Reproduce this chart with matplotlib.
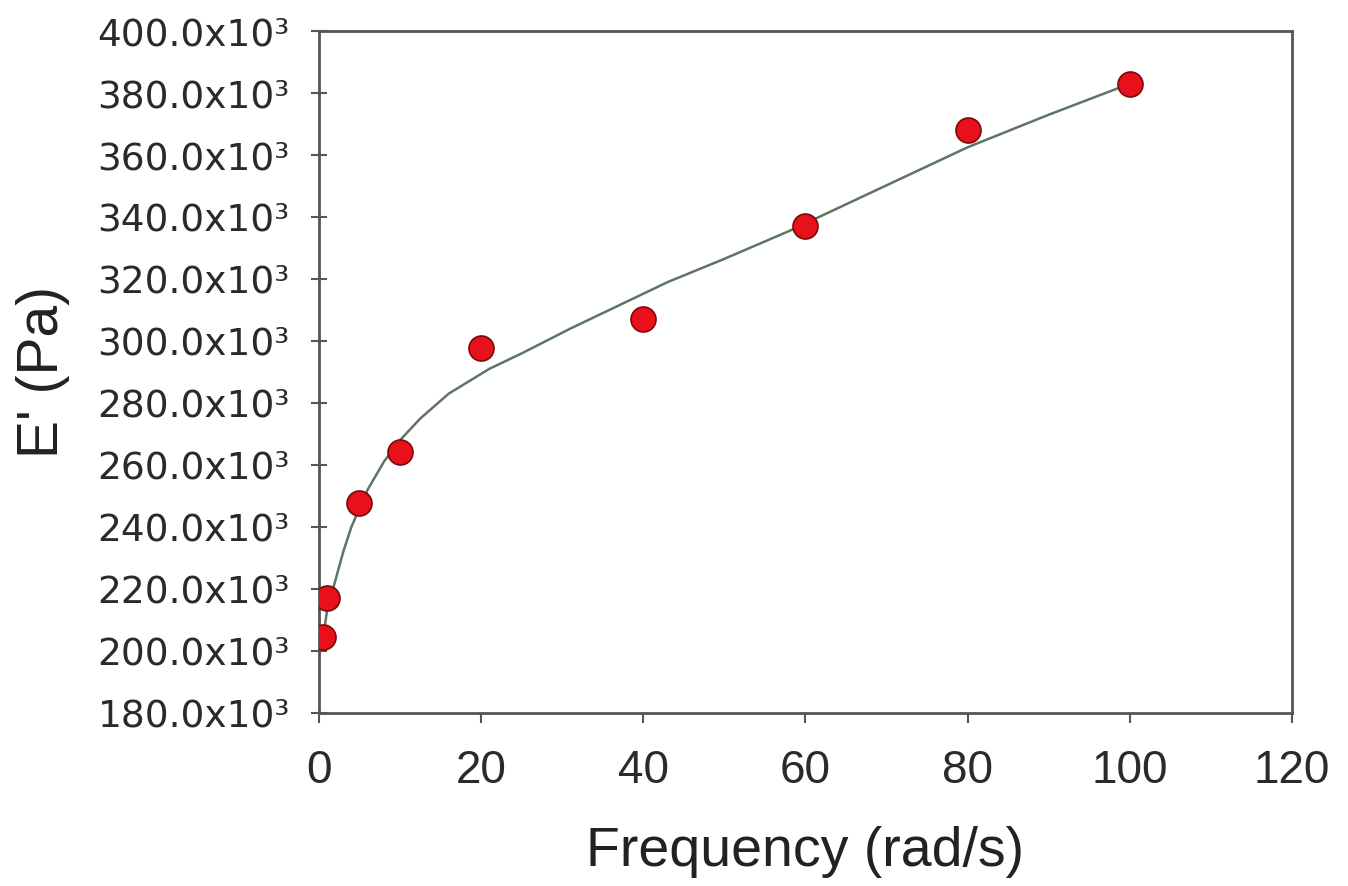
import numpy as np
import matplotlib
matplotlib.use("Agg")
import matplotlib.pyplot as plt
from matplotlib.ticker import FuncFormatter, MultipleLocator

# measured points
freq = [0.5, 1, 5, 10, 20, 40, 60, 80, 100]
e_prime = [204.5e3, 217.0e3, 247.7e3, 264.2e3, 297.7e3, 307.1e3, 337.1e3, 368.0e3, 382.9e3]

# fitted curve
fit_x = [0.5, 1, 2, 3, 4, 6, 8, 10, 12.5, 16, 21, 25, 31, 37, 43, 50, 58, 69, 80, 90, 100]
fit_y = [204e3, 213e3, 222.5e3, 232e3, 240e3, 252e3, 261e3, 268e3, 275e3, 283e3,
         291e3, 296e3, 304e3, 311.5e3, 319e3, 326.5e3, 335.5e3, 349e3, 362.5e3,
         373e3, 383e3]

plt.rcParams['font.family'] = ['Liberation Sans', 'DejaVu Sans']

fig = plt.figure(figsize=(13.48, 8.86), dpi=100)
ax = fig.add_axes([0.2366, 0.1953, 0.7219, 0.7697])

ax.plot(fit_x, fit_y, color='#5f7466', lw=1.8, zorder=2)
ax.plot(freq, e_prime, 'o', ms=18, color='#e8101a', mec='#7a0a0a', mew=1.2, zorder=3)

ax.set_xlim(0, 120)
ax.set_ylim(180e3, 400e3)
ax.xaxis.set_major_locator(MultipleLocator(20))
ax.yaxis.set_major_locator(MultipleLocator(20e3))
ax.yaxis.set_major_formatter(FuncFormatter(lambda v, p: f"{v/1000:.1f}x10³"))

for s in ax.spines.values():
    s.set_color('#555555')
    s.set_linewidth(2)

ax.tick_params(axis='x', direction='out', length=7, width=1.5, color='#555555',
               labelsize=33, pad=19, labelcolor='#2a2a2a')
ax.tick_params(axis='y', direction='inout', length=12, width=1.5, color='#555555',
               labelsize=27, pad=15, labelcolor='#2a2a2a')
for lab in ax.get_yticklabels():
    lab.set_family('DejaVu Sans')

ax.set_xlabel('Frequency (rad/s)', fontsize=40, color='#222222', labelpad=24)
ax.set_ylabel("E' (Pa)", fontsize=41, color='#222222')
ax.yaxis.set_label_coords(-0.256, 0.5)

fig.savefig('out.png', dpi=100)
